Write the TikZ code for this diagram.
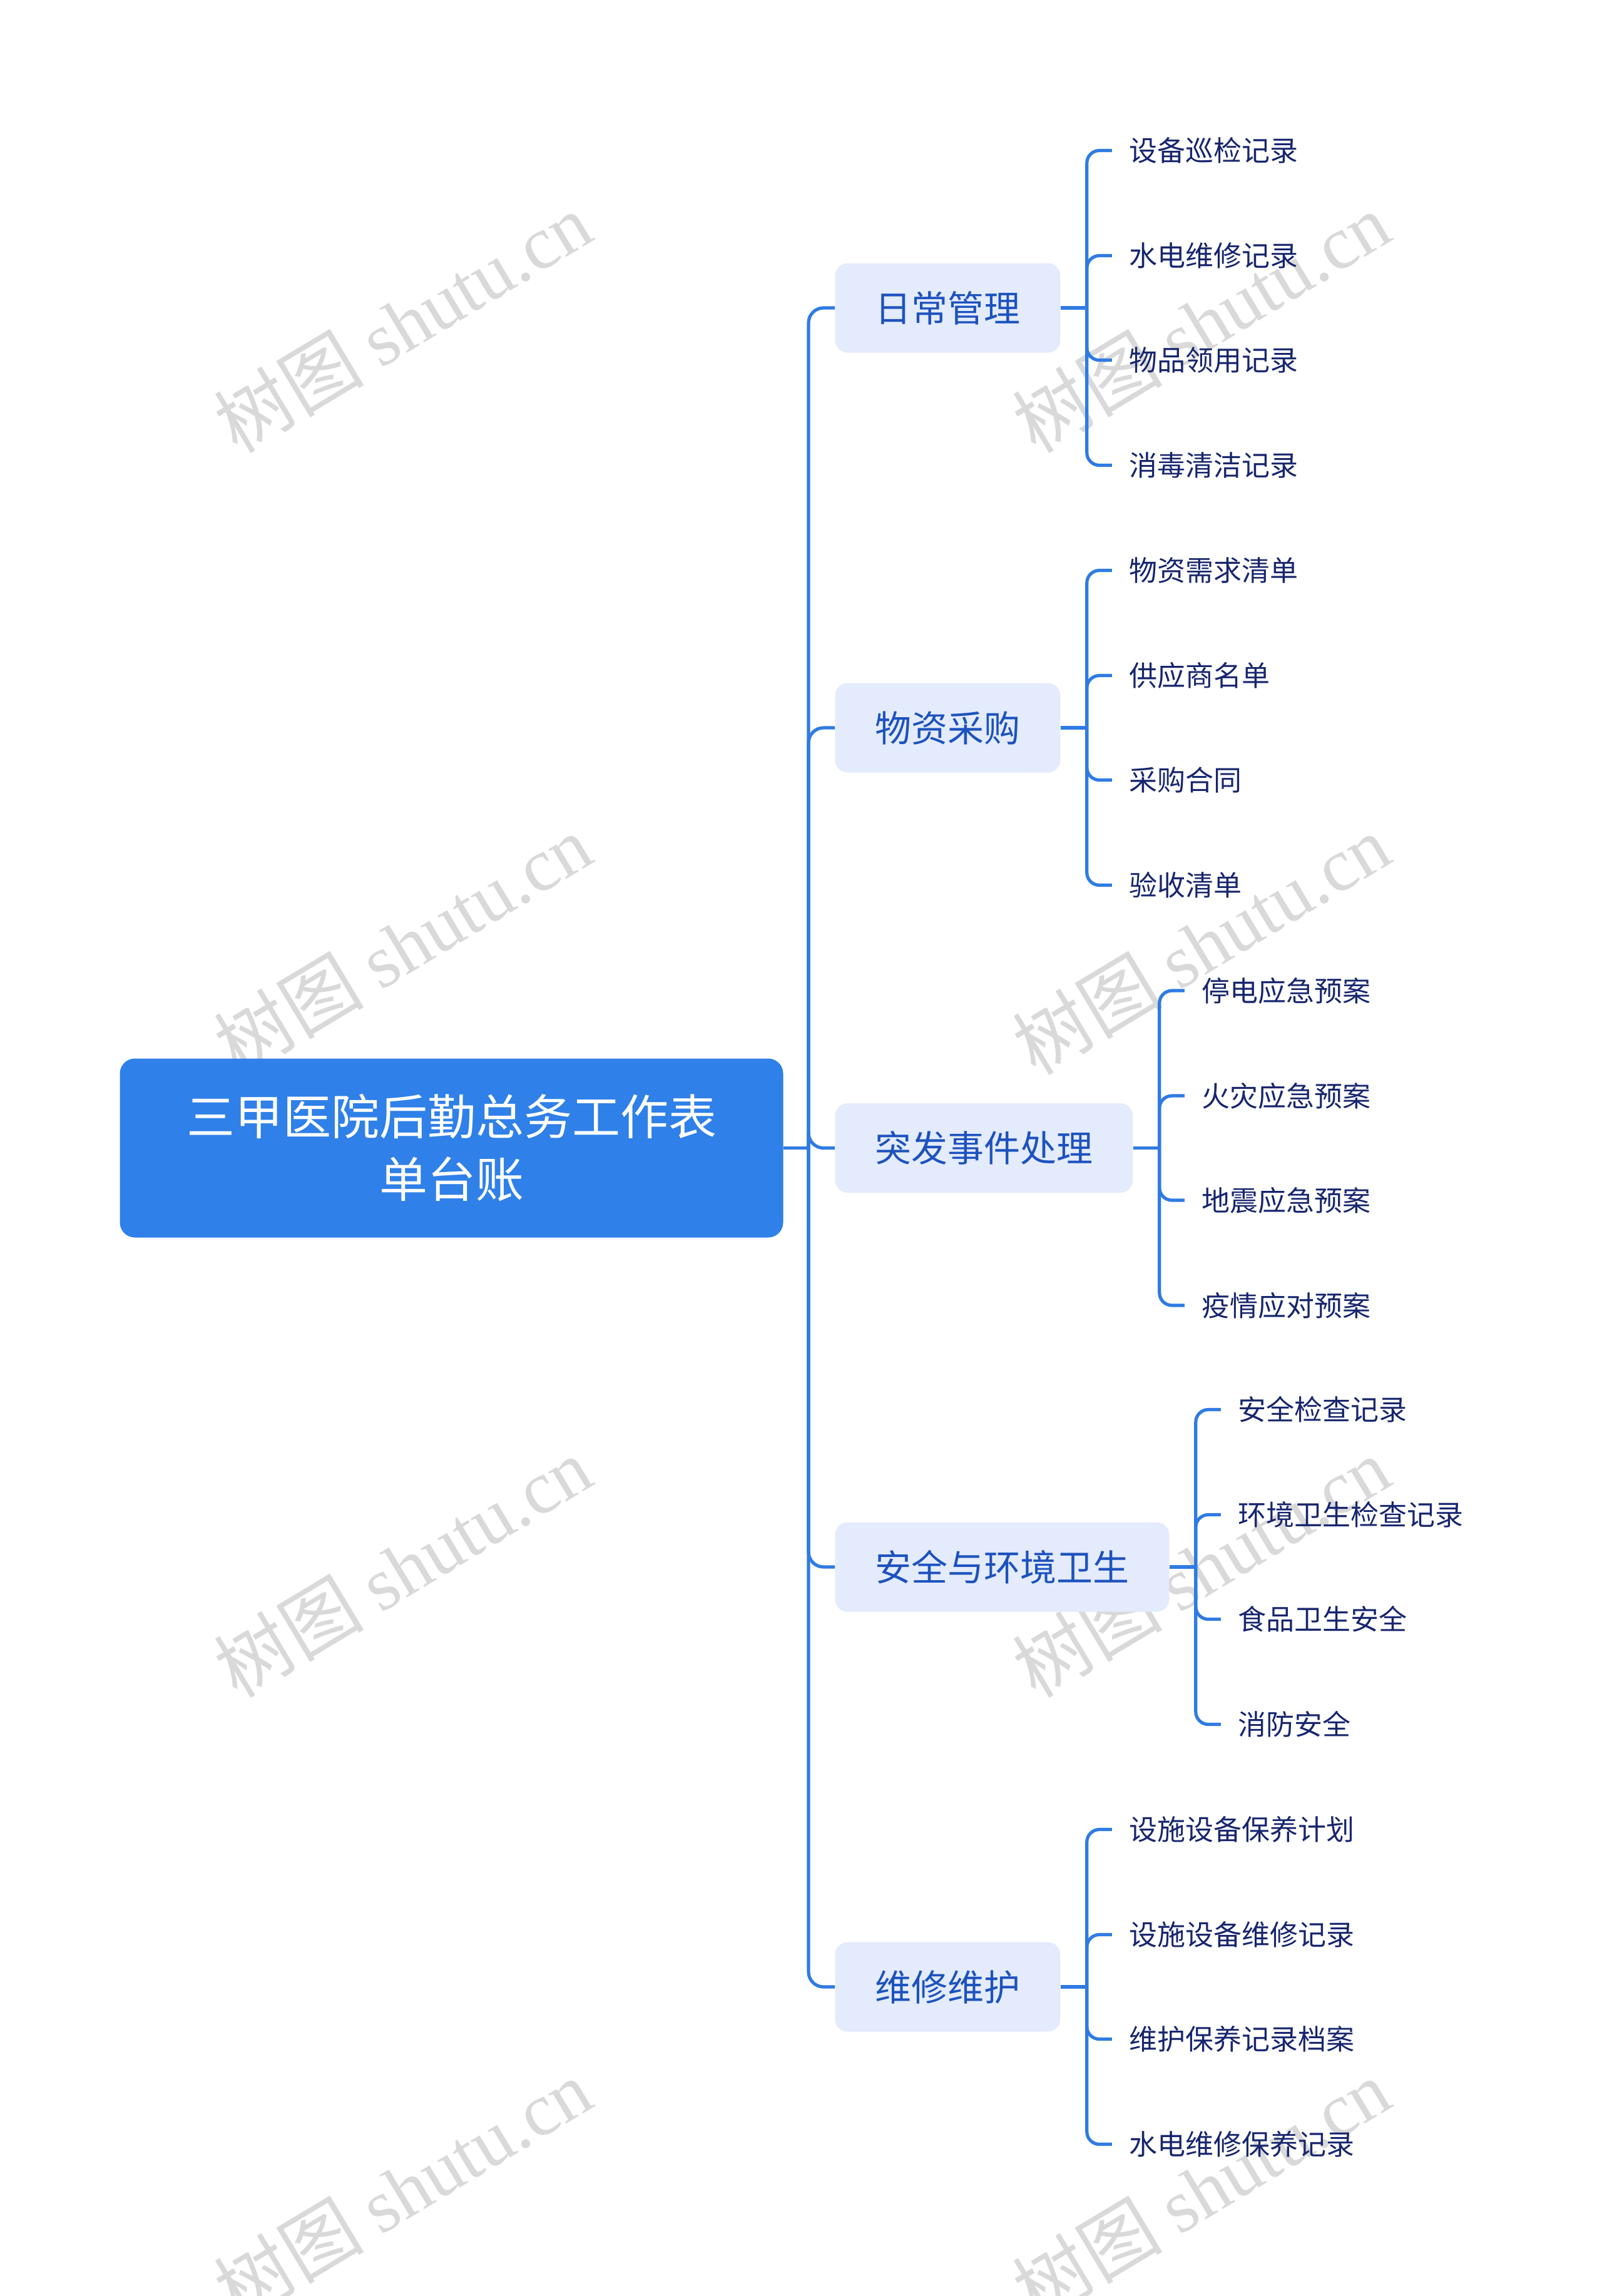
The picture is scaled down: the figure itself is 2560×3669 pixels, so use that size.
\documentclass[tikz,border=0pt]{standalone}
\usepackage{fontspec}
\setmainfont{Noto Sans CJK SC}
\newfontfamily\wmcjk{Noto Sans CJK SC}
\newfontfamily\wmlat{Liberation Serif}
\usetikzlibrary{calc}
\definecolor{rootblue}{HTML}{2F80E8}
\definecolor{linkblue}{HTML}{2F7BE3}
\definecolor{branchfill}{HTML}{E3EBFC}
\definecolor{branchtext}{HTML}{1D52BE}
\definecolor{leaftext}{HTML}{18266E}
\definecolor{wmgray}{HTML}{D9D9D9}
\tikzset{
  rootbox/.style={fill=rootblue, draw=none, rounded corners=12pt, text=white,
    minimum width=530pt, minimum height=143pt, align=center,
    font=\fontsize{38.5}{50}\selectfont},
  branchbox/.style={fill=branchfill, draw=none, rounded corners=10pt, text=branchtext,
    minimum height=71.5pt, inner xsep=32pt, anchor=west,
    font=\fontsize{29}{34}\selectfont},
  leafbox/.style={anchor=west, inner xsep=13.5pt, inner ysep=0pt, text=leaftext,
    font=\fontsize{22.5}{26}\selectfont},
  conn/.style={draw=linkblue, line width=2.6pt},
  wm/.style={text=wmgray, rotate=31, font=\fontsize{60}{70}\selectfont}
}
\begin{document}
\begin{tikzpicture}[x=0.5pt,y=-0.5pt]
\useasboundingbox (0,0) rectangle (2560,3669);
% watermarks
\foreach \wx in {643,1919} {
  \foreach \wy in {515,1509,2504,3498} {
    \node[wm] at (\wx,\wy) {{\wmcjk 树图} {\wmlat shutu.cn}};
  }
}
% root
\node[rootbox] (root) at (721.5,1834.5) {三甲医院后勤总务工作表\\单台账};
\coordinate (T) at (1292,1834.5);
% branches
\node[branchbox] (b1) at (1334,492) {日常管理};
\node[branchbox] (b2) at (1334,1163) {物资采购};
\node[branchbox] (b3) at (1334,1834.5) {突发事件处理};
\node[branchbox] (b4) at (1334,2504) {安全与环境卫生};
\node[branchbox] (b5) at (1334,3175) {维修维护};
\draw[conn] (root.east) -- (T);
\foreach \b in {b1,b2,b3,b4,b5} {
  \draw[conn, rounded corners=12pt] (T) |- (\b.west);
  \coordinate (\b j) at ($(\b.east)+(42,0)$);
  \draw[conn] (\b.east) -- (\b j);
}
% leaves
\newcommand{\leaves}[5]{%
  \node[leafbox] (#1a) at ($(#1j)+(40,-251.5)$) {#2};
  \node[leafbox] (#1b) at ($(#1j)+(40,-83.5)$) {#3};
  \node[leafbox] (#1c) at ($(#1j)+(40,83.5)$) {#4};
  \node[leafbox] (#1d) at ($(#1j)+(40,251.5)$) {#5};
  \foreach \l in {a,b,c,d} {\draw[conn, rounded corners=10pt] (#1j) |- (#1\l.west);}
}
\leaves{b1}{设备巡检记录}{水电维修记录}{物品领用记录}{消毒清洁记录}
\leaves{b2}{物资需求清单}{供应商名单}{采购合同}{验收清单}
\leaves{b3}{停电应急预案}{火灾应急预案}{地震应急预案}{疫情应对预案}
\leaves{b4}{安全检查记录}{环境卫生检查记录}{食品卫生安全}{消防安全}
\leaves{b5}{设施设备保养计划}{设施设备维修记录}{维护保养记录档案}{水电维修保养记录}
\end{tikzpicture}
\end{document}
